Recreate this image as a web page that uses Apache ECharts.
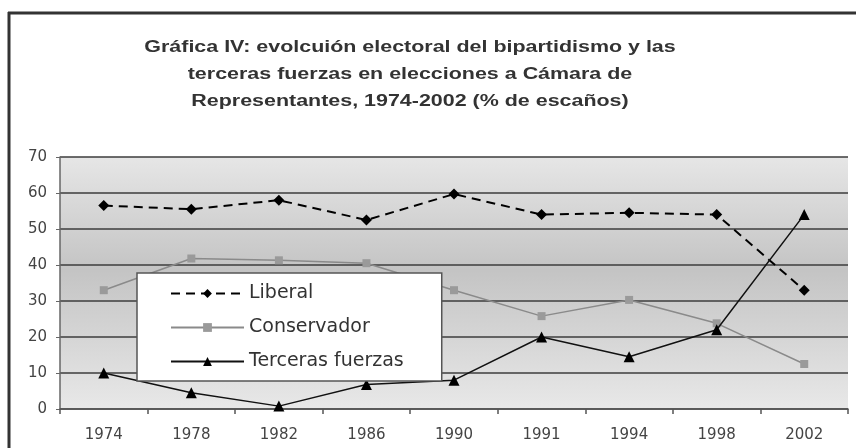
<!DOCTYPE html>
<html>
<head>
<meta charset="utf-8">
<script src="https://cdn.jsdelivr.net/npm/echarts@6/dist/echarts.min.js"></script>
<style>
  html, body { margin: 0; padding: 0; background: #fff; }
  #chart { width: 856px; height: 448px; }
</style>
</head>
<body>
<div id="chart"></div>
<script>
// años de elección
const years = ['1974', '1978', '1982', '1986', '1990', '1991', '1994', '1998', '2002']

// % de escaños
const liberal = [56.5, 55.5, 58, 52.5, 59.7, 54, 54.5, 54, 33]
const conservador = [33, 41.8, 41.3, 40.5, 33, 25.8, 30.3, 23.8, 12.5]
const terceras = [10, 4.5, 0.8, 6.8, 8, 20, 14.5, 22, 54]

const yTicks = [0, 10, 20, 30, 40, 50, 60, 70]

const titleLines = [
  'Gráfica IV: evolcuión electoral del bipartidismo y las',
  'terceras fuerzas en elecciones a Cámara de',
  'Representantes, 1974-2002 (% de escaños)'
]

const chart = echarts.init(document.getElementById('chart'))

// título: texto un poco estirado en horizontal como en la imagen
const titleGraphics = titleLines.map((t, i) => ({
  type: 'text',
  x: 410,
  y: 48 + i * 27,
  scaleX: 1.34,
  style: {
    text: t,
    x: 0,
    y: 0,
    align: 'center',
    verticalAlign: 'middle',
    font: 'bold 16px "Liberation Sans", Arial, sans-serif',
    fill: '#333'
  }
}))

const option = {
  animation: false,
  backgroundColor: '#fff',
  textStyle: { fontFamily: 'DejaVu Sans, sans-serif' },
  graphic: [
    { type: 'line', shape: { x1: 8, y1: 13, x2: 856, y2: 13 }, style: { stroke: '#333', lineWidth: 3 } },
    { type: 'line', shape: { x1: 9, y1: 12, x2: 9, y2: 448 }, style: { stroke: '#333', lineWidth: 3 } },
    ...titleGraphics
  ],
  grid: {
    left: 60,
    right: 8,
    top: 157,
    bottom: 39,
    show: true,
    borderWidth: 0,
    backgroundColor: new echarts.graphic.LinearGradient(0, 0, 0, 1, [
      { offset: 0, color: '#e6e6e6' },
      { offset: 0.45, color: '#c4c4c4' },
      { offset: 1, color: '#e8e8e8' }
    ])
  },
  legend: {
    orient: 'vertical',
    left: 137,
    top: 273,
    backgroundColor: '#fff',
    borderColor: '#555',
    borderWidth: 1.5,
    padding: [11, 38, 10, 33],
    itemWidth: 73,
    itemHeight: 11,
    itemGap: 15,
    textStyle: { fontSize: 19, color: '#333', fontFamily: 'DejaVu Sans' },
    data: ['Liberal', 'Conservador', 'Terceras fuerzas']
  },
  xAxis: {
    type: 'category',
    data: years,
    boundaryGap: true,
    axisLine: { lineStyle: { color: '#555', width: 1.5 } },
    axisTick: { show: true, length: 5, lineStyle: { color: '#555', width: 1.5 } },
    axisLabel: { fontSize: 15, color: '#444', margin: 19 },
    splitLine: { show: false }
  },
  yAxis: {
    type: 'value',
    min: 0,
    max: 70,
    interval: 10,
    axisLine: { show: true, lineStyle: { color: '#666', width: 1.5 } },
    axisTick: { show: true, length: 4, lineStyle: { color: '#666' } },
    axisLabel: {
      fontSize: 15,
      color: '#444',
      margin: 13,
      formatter: v => yTicks.includes(v) ? String(v) : ''
    },
    splitLine: { show: true, lineStyle: { color: '#3c3c3c', width: 1.5 } }
  },
  series: [
    {
      name: 'Liberal',
      type: 'line',
      data: liberal,
      symbol: 'diamond',
      symbolSize: 11,
      itemStyle: { color: '#000' },
      lineStyle: { color: '#000', width: 2, type: [9, 6] },
      z: 3
    },
    {
      name: 'Conservador',
      type: 'line',
      data: conservador,
      symbol: 'rect',
      symbolSize: 8,
      itemStyle: { color: '#9a9a9a' },
      lineStyle: { color: '#8a8a8a', width: 1.5 },
      z: 2
    },
    {
      name: 'Terceras fuerzas',
      type: 'line',
      data: terceras,
      symbol: 'triangle',
      symbolSize: 11,
      itemStyle: { color: '#000' },
      lineStyle: { color: '#111', width: 1.5 },
      z: 3
    }
  ]
}

chart.setOption(option)
</script>
</body>
</html>
